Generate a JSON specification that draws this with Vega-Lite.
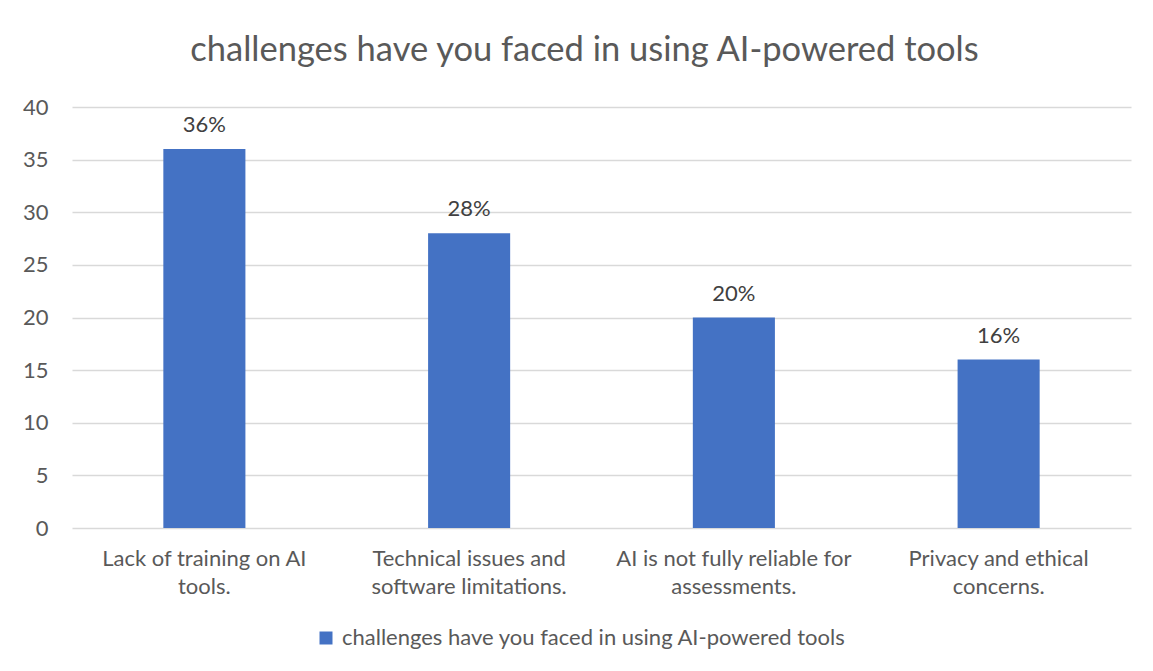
{
  "$schema": "https://vega.github.io/schema/vega-lite/v6.json",
  "autosize": "none",
  "width": 1059,
  "height": 421,
  "padding": {"left": 72, "top": 107, "right": 22, "bottom": 143},
  "background": "white",
  "title": {
    "text": "challenges have you faced in using AI-powered tools",
    "font": "Lato",
    "fontSize": 34.5,
    "fontWeight": "normal",
    "color": "#595959",
    "anchor": "middle",
    "frame": "group",
    "dx": -17,
    "offset": 28
  },
  "data": {
    "values": [
      {"challenge": "Lack of training on AI tools.", "value": 36, "label": "36%", "series": "challenges have you faced in using AI-powered tools"},
      {"challenge": "Technical issues and software limitations.", "value": 28, "label": "28%", "series": "challenges have you faced in using AI-powered tools"},
      {"challenge": "AI is not fully reliable for assessments.", "value": 20, "label": "20%", "series": "challenges have you faced in using AI-powered tools"},
      {"challenge": "Privacy and ethical concerns.", "value": 16, "label": "16%", "series": "challenges have you faced in using AI-powered tools"}
    ]
  },
  "encoding": {
    "x": {
      "field": "challenge",
      "type": "nominal",
      "sort": null,
      "scale": {"paddingInner": 0.69, "paddingOuter": 0.345},
      "axis": {
        "title": null,
        "labelAngle": 0,
        "labelFont": "Lato",
        "labelFontSize": 22,
        "labelColor": "#595959",
        "labelPadding": 20,
        "labelLineHeight": 28,
        "labelBaseline": "top",
        "labelLimit": 0,
        "ticks": false,
        "domain": false,
        "labelExpr": "datum.value == 'Lack of training on AI tools.' ? ['Lack of training on AI', 'tools.'] : datum.value == 'Technical issues and software limitations.' ? ['Technical issues and', 'software limitations.'] : datum.value == 'AI is not fully reliable for assessments.' ? ['AI is not fully reliable for', 'assessments.'] : ['Privacy and ethical', 'concerns.']"
      }
    },
    "y": {
      "field": "value",
      "type": "quantitative",
      "scale": {"domain": [0, 40], "nice": false},
      "axis": {
        "title": null,
        "values": [0, 5, 10, 15, 20, 25, 30, 35, 40],
        "labelFont": "Lato",
        "labelFontSize": 22,
        "labelColor": "#595959",
        "labelPadding": 24,
        "ticks": false,
        "domain": false,
        "gridColor": "#D9D9D9",
        "gridWidth": 1.5
      }
    }
  },
  "layer": [
    {
      "mark": {"type": "bar", "color": "#4472C4"},
      "encoding": {
        "color": {
          "field": "series",
          "type": "nominal",
          "scale": {"range": ["#4472C4"]},
          "legend": {
            "title": null,
            "orient": "none",
            "legendX": 243,
            "legendY": 520,
            "symbolType": "square",
            "symbolSize": 169,
            "symbolStrokeWidth": 0,
            "labelFont": "Lato",
            "labelFontSize": 22,
            "labelColor": "#595959",
            "labelOffset": 5,
            "labelLimit": 0
          }
        }
      }
    },
    {
      "mark": {"type": "text", "dy": -24, "font": "Lato", "fontSize": 22, "color": "#404040"},
      "encoding": {"text": {"field": "label"}}
    }
  ],
  "config": {"view": {"stroke": null}}
}
